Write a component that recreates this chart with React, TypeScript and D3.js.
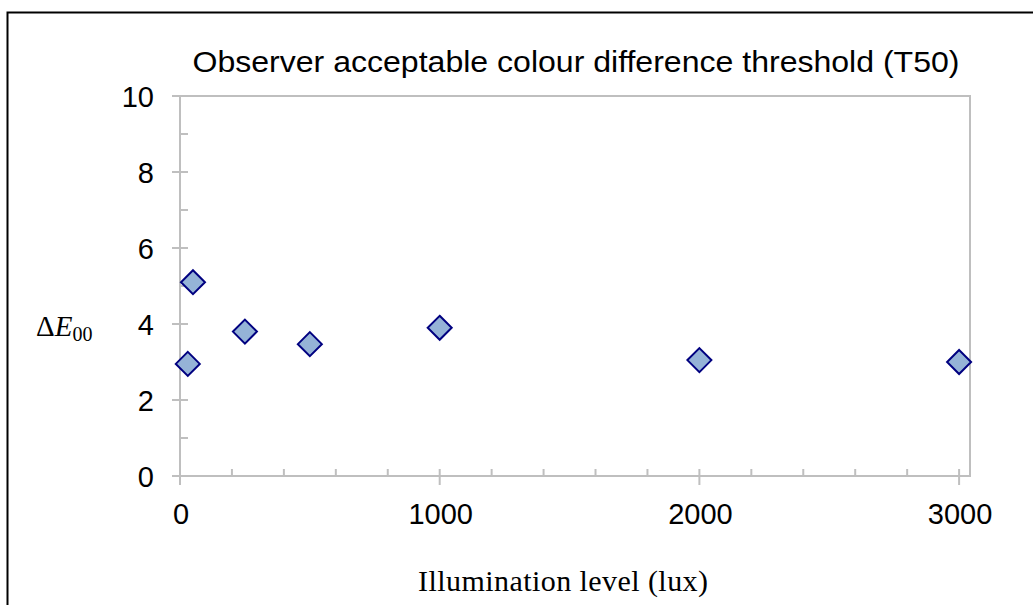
import React from "react";
import * as d3 from "d3";

const illuminance = [30, 50, 250, 500, 1000, 2000, 3000];
const deltaE = [2.95, 5.1, 3.8, 3.47, 3.9, 3.05, 3.0];
const xMajorTicks = [0, 1000, 2000, 3000];
const yMajorTicks = [0, 2, 4, 6, 8, 10];
const title = "Observer acceptable colour difference threshold (T50)";
const xTitle = "Illumination level (lux)";

export default function App() {
  const W = 1033, H = 605;
  const left = 180, right = 970, top = 96, bottom = 476;
  const x = d3.scaleLinear().domain([0, 3042]).range([left, right]);
  const y = d3.scaleLinear().domain([0, 10]).range([bottom, top]);
  const xMinor = d3.range(0, 3001, 200).filter((v) => v % 1000 !== 0);
  const yMinor = d3.range(1, 10, 2);
  const axisColor = "#bfbfbf";
  const r = 12;
  const diamond = (cx: number, cy: number) =>
    `M${cx},${cy - r}L${cx + r},${cy}L${cx},${cy + r}L${cx - r},${cy}Z`;
  const sans = "Liberation Sans, Arial, sans-serif";
  const serif = "Liberation Serif, Times New Roman, serif";

  return (
    <svg
      width={W}
      height={H}
      style={{ position: "absolute", left: 0, top: 0, background: "#fff" }}
    >
      <rect x={7.5} y={12.5} width={W} height={H} fill="#fff" stroke="#000" strokeWidth={2} />
      <text
        x={576}
        y={72}
        textAnchor="middle"
        fontFamily={sans}
        fontSize={30}
        textLength={767}
        lengthAdjust="spacingAndGlyphs"
      >
        {title}
      </text>
      <rect x={left} y={top} width={right - left} height={bottom - top} fill="none" stroke={axisColor} strokeWidth={2} />
      {yMajorTicks.map((v) => (
        <g key={"ym" + v}>
          <line x1={left - 8} x2={left + 8} y1={y(v)} y2={y(v)} stroke={axisColor} strokeWidth={2} />
          <text x={154} y={y(v) + 10.5} textAnchor="end" fontFamily={sans} fontSize={29}>
            {v}
          </text>
        </g>
      ))}
      {yMinor.map((v) => (
        <line key={"yn" + v} x1={left} x2={left + 8} y1={y(v)} y2={y(v)} stroke={axisColor} strokeWidth={2} />
      ))}
      {xMajorTicks.map((v) => (
        <g key={"xm" + v}>
          <line x1={x(v)} x2={x(v)} y1={bottom - 7} y2={bottom + 9} stroke={axisColor} strokeWidth={2} />
          <text x={x(v) + 1} y={524} textAnchor="middle" fontFamily={sans} fontSize={29}>
            {v}
          </text>
        </g>
      ))}
      {xMinor.map((v) => (
        <line key={"xn" + v} x1={x(v)} x2={x(v)} y1={bottom - 7} y2={bottom} stroke={axisColor} strokeWidth={2} />
      ))}
      {illuminance.map((v, i) => (
        <path
          key={"p" + i}
          d={diamond(x(v), y(deltaE[i]))}
          fill="#95b3d7"
          stroke="#000080"
          strokeWidth={2}
        />
      ))}
      <text x={36} y={336} fontFamily={serif} fontSize={29}>
        Δ<tspan fontStyle="italic">E</tspan>
        <tspan fontSize={20} dy={5}>00</tspan>
      </text>
      <text
        x={563}
        y={591}
        textAnchor="middle"
        fontFamily={serif}
        fontSize={30}
        textLength={290}
        lengthAdjust="spacing"
      >
        {xTitle}
      </text>
    </svg>
  );
}
